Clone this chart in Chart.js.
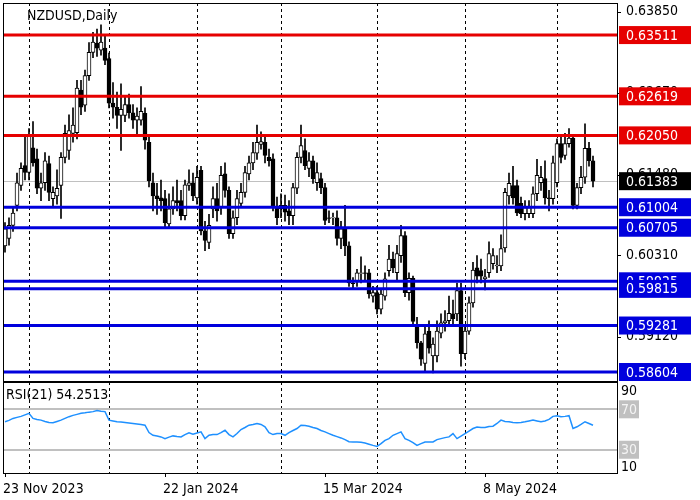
<!DOCTYPE html>
<html><head><meta charset="utf-8">
<script src="https://cdn.jsdelivr.net/npm/chart.js@4"></script>
<style>html,body{margin:0;padding:0;background:#fff;width:700px;height:500px;overflow:hidden}
#c1{position:absolute;left:0;top:0}#c2{position:absolute;left:0;top:380px}</style>
</head><body>
<canvas id="c1" width="700" height="383"></canvas>
<canvas id="c2" width="700" height="120"></canvas>
<script>
const symbolTitle = "NZDUSD,Daily";
const rsiTitle = "RSI(21) 54.2513";
const opens = [.6044,.6055,.6074,.6103,.6132,.6161,.6151,.6187,.6171,.6128,.6136,.6164,.6113,.6117,.6132,.6173,.6183,.6208,.6209,.6271,
.6249,.6292,.6326,.6339,.6329,.6332,.6317,.6252,.6246,.6234,.6234,.6250,.6238,.6227,.6227,.6237,.6195,.6136,.6117,.6114,
.6113,.6076,.6098,.6110,.6110,.6088,.6132,.6136,.6114,.6154,.6066,.6049,.6098,.6113,.6100,.6149,.6125,.6062,.6085,.6106,
.6122,.6149,.6165,.6179,.6192,.6195,.6173,.6171,.6100,.6103,.6103,.6095,.6088,.6128,.6173,.6183,.6157,.6168,.6136,.6142,
.6129,.6085,.6085,.6085,.6055,.6069,.6044,.5990,.5993,.6004,.6005,.6005,.5971,.5976,.5952,.5971,.6008,.6025,.6005,.6030,
.6059,.5976,.5997,.5930,.5903,.5873,.5920,.5884,.5884,.5917,.5932,.5935,.5945,.5945,.5979,.5887,.5920,.5961,.6012,.6008,
.5996,.6005,.6018,.6015,.6015,.6041,.6117,.6132,.6132,.6106,.6091,.6091,.6091,.6120,.6136,.6142,.6114,.6113,.6136,.6193,
.6176,.6193,.6201,.6103,.6129,.6144,.6186,.6168];
const highs = [.6078,.6085,.6100,.6150,.6165,.6205,.6215,.6225,.6185,.6150,.6180,.6175,.6130,.6155,.6180,.6220,.6235,.6245,.6285,.6285,
.6300,.6340,.6355,.6360,.6366,.6350,.6325,.6282,.6268,.6280,.6262,.6265,.6250,.6245,.6276,.6245,.6205,.6150,.6135,.6140,
.6125,.6120,.6130,.6140,.6125,.6140,.6155,.6150,.6160,.6160,.6080,.6090,.6130,.6135,.6160,.6165,.6130,.6095,.6125,.6135,
.6160,.6175,.6195,.6220,.6210,.6205,.6185,.6178,.6115,.6120,.6118,.6110,.6135,.6180,.6220,.6200,.6180,.6175,.6165,.6150,
.6135,.6095,.6092,.6095,.6080,.6103,.6050,.5998,.6010,.6028,.6015,.6010,.5985,.5985,.5980,.6005,.6045,.6035,.6045,.6074,
.6065,.6005,.6000,.5940,.5905,.5930,.5935,.5910,.5935,.5945,.5950,.5971,.5965,.5990,.5990,.5930,.5970,.6020,.6030,.6025,
.6010,.6050,.6040,.6030,.6060,.6128,.6150,.6160,.6140,.6115,.6110,.6110,.6130,.6170,.6160,.6168,.6125,.6175,.6200,.6205,
.6208,.6215,.6205,.6135,.6160,.6222,.6195,.6175];
const lows = [.6035,.6045,.6065,.6095,.6125,.6140,.6140,.6160,.6120,.6110,.6125,.6110,.6100,.6105,.6084,.6165,.6170,.6195,.6200,.6235,
.6240,.6285,.6318,.6320,.6322,.6308,.6245,.6230,.6215,.6183,.6225,.6230,.6215,.6205,.6220,.6185,.6130,.6095,.6090,.6095,
.6072,.6070,.6090,.6095,.6082,.6082,.6125,.6110,.6105,.6060,.6037,.6040,.6085,.6080,.6090,.6115,.6055,.6055,.6075,.6100,
.6115,.6140,.6155,.6170,.6185,.6165,.6160,.6095,.6075,.6085,.6080,.6075,.6075,.6120,.6165,.6155,.6145,.6135,.6125,.6120,
.6075,.6078,.6075,.6045,.6040,.6030,.5985,.5982,.5985,.5990,.5992,.5968,.5962,.5945,.5945,.5965,.6000,.6005,.5995,.6020,
.5970,.5965,.5928,.5895,.5870,.5862,.5888,.5859,.5875,.5910,.5920,.5928,.5930,.5935,.5869,.5880,.5915,.5955,.5990,.5990,
.5980,.5998,.6010,.6005,.6008,.6035,.6105,.6105,.6088,.6085,.6082,.6085,.6085,.6110,.6125,.6105,.6095,.6105,.6130,.6165,
.6170,.6188,.6098,.6098,.6120,.6135,.6160,.6130];
const closes = [.6069,.6074,.6092,.6136,.6157,.6151,.6205,.6165,.6128,.6136,.6168,.6122,.6122,.6128,.6173,.6208,.6212,.6220,.6274,.6246,
.6292,.6326,.6341,.6332,.6341,.6314,.6252,.6246,.6234,.6243,.6250,.6238,.6227,.6233,.6240,.6198,.6139,.6117,.6113,.6110,
.6078,.6098,.6110,.6107,.6088,.6133,.6136,.6117,.6144,.6066,.6052,.6074,.6113,.6095,.6147,.6125,.6062,.6085,.6113,.6122,
.6151,.6165,.6180,.6195,.6196,.6176,.6168,.6100,.6085,.6098,.6093,.6088,.6129,.6173,.6190,.6161,.6168,.6142,.6151,.6129,
.6081,.6084,.6085,.6055,.6069,.6044,.5990,.5989,.6005,.6005,.6004,.5974,.5976,.5952,.5974,.5996,.6025,.6012,.6033,.6059,
.5976,.5997,.5934,.5903,.5879,.5916,.5895,.5901,.5920,.5932,.5935,.5946,.5938,.5979,.5887,.5920,.5961,.6009,.6000,.6000,
.5999,.6033,.6030,.6016,.6040,.6122,.6135,.6114,.6092,.6091,.6100,.6100,.6120,.6147,.6144,.6114,.6113,.6165,.6193,.6173,
.6193,.6201,.6103,.6129,.6144,.6186,.6168,.61383];
const rsiValues = [57.7,59,61,62,63,64.5,66,61,60,59.3,58,57,56.7,58,59.3,61,62.7,64,65,66,
66.5,67.2,67.7,68.7,68,67.7,59.3,58.5,57.7,57.5,57,56.5,56,55.5,55,54.3,47,44.3,43.5,42.7,
41,42.5,43.7,43,42.7,45,46.7,45.3,46.5,47.7,41,44.3,45,45,47,49.3,45,42.7,46,50,
52,54.3,55,56,55,52.7,47,45,46,46,44.3,47,49,51,54.3,54,53.3,52,51,49,
47.7,46,44.3,43,41.7,40,38,37.7,37.7,37.5,36.7,35.5,34.3,33.3,36,39.3,41,44.3,46,47.7,
41,39.3,37,34.3,36,37.7,37.7,37.7,40,41,42,42.7,46,41,43.5,46,48.5,51,52.5,52,
52,53,53.3,56,59.3,58,57.7,57,56.7,57,57.7,58.5,59.3,58.5,57.7,58.5,60,63,63.7,62.7,
63,63.7,51,52.7,55,57.7,56,54.25];
const redLevels = [0.63511, 0.62619, 0.62050];
const blueLevels = [0.61004, 0.60705, 0.59925, 0.59815, 0.59281, 0.58604];
const lastPrice = 0.61383;
const priceTicks = [0.63850, 0.62670, 0.61480, 0.60310, 0.59120];
const rsiLevels = [70, 30];
const rsiAxisLabels = [90, 10];
const monthLineBars = [6, 26, 48, 69, 93, 115, 138];
const dateLabelBars = [0, 40, 80, 120];
const dateLabels = ["23 Nov 2023", "22 Jan 2024", "15 Mar 2024", "8 May 2024"];

const FONT = '14px "DejaVu Sans Condensed", "DejaVu Sans"';
const idx = closes.map((_, i) => i);
const wickData = idx.map(i => ({x: i, y: [lows[i], highs[i]]}));
const bodyData = idx.map(i => ({x: i, y: opens[i] === closes[i] ? [opens[i], opens[i] + 0.00004] : [opens[i], closes[i]]}));
const bodyColors = idx.map(i => closes[i] >= opens[i] ? '#ffffff' : '#000000');

function vlines(chart, bars) {
  const {ctx, chartArea: a, scales: {x}} = chart;
  ctx.save(); ctx.strokeStyle = '#000'; ctx.lineWidth = 1; ctx.setLineDash([3, 3]);
  bars.forEach(b => { const px = Math.round(x.getPixelForValue(b)) + 0.5;
    ctx.beginPath(); ctx.moveTo(px, a.top); ctx.lineTo(px, a.bottom); ctx.stroke(); });
  ctx.restore();
}
function frame(chart) {
  const {ctx, chartArea: a} = chart;
  ctx.save(); ctx.strokeStyle = '#000'; ctx.lineWidth = 1;
  ctx.strokeRect(a.left + 0.5, a.top + 0.5, a.right - a.left, a.bottom - a.top); ctx.restore();
}

const mainPlugin = {
  id: 'mainDeco',
  beforeDatasetsDraw(chart) {
    const {ctx, chartArea: a, scales: {y}} = chart;
    vlines(chart, monthLineBars);
    ctx.save();
    let py = Math.round(y.getPixelForValue(lastPrice)) + 0.5;
    ctx.strokeStyle = '#c0c0c0'; ctx.lineWidth = 1;
    ctx.beginPath(); ctx.moveTo(a.left, py); ctx.lineTo(a.right, py); ctx.stroke();
    ctx.restore();
  },
  afterDatasetsDraw(chart) {
    const {ctx, chartArea: a, scales: {y}} = chart;
    ctx.save(); ctx.lineWidth = 3;
    const drawLevel = (v, col) => { const py = y.getPixelForValue(v);
      ctx.strokeStyle = col; ctx.beginPath(); ctx.moveTo(a.left, py); ctx.lineTo(a.right, py); ctx.stroke(); };
    redLevels.forEach(v => drawLevel(v, '#e60000'));
    blueLevels.forEach(v => drawLevel(v, '#0000dd'));
    ctx.restore();
    frame(chart);
    ctx.save(); ctx.font = FONT; ctx.textBaseline = 'middle'; ctx.fillStyle = '#000';
    priceTicks.forEach(v => { const py = y.getPixelForValue(v);
      ctx.fillRect(a.right, Math.round(py), 4, 1);
      ctx.fillText(v.toFixed(5), a.right + 9, py); });
    const box = (v, bg) => { const py = y.getPixelForValue(v);
      ctx.fillStyle = bg; ctx.fillRect(a.right + 2, py - 9, 72, 18);
      ctx.fillStyle = '#fff'; ctx.fillText(v.toFixed(5), a.right + 9, py + 1); };
    redLevels.forEach(v => box(v, '#e60000'));
    blueLevels.forEach(v => box(v, '#0000dd'));
    box(lastPrice, '#000');
    ctx.fillStyle = '#000'; ctx.textBaseline = 'alphabetic';
    ctx.fillText(symbolTitle, a.left + 24, a.top + 17);
    ctx.restore();
  }
};

new Chart(document.getElementById('c1'), {
  type: 'bar',
  data: { datasets: [
    { data: wickData, backgroundColor: '#000', barThickness: 1, grouped: false, order: 2 },
    { data: bodyData, backgroundColor: bodyColors, borderColor: '#000', borderWidth: 1, borderSkipped: false, barThickness: 4, grouped: false, order: 1 }
  ]},
  options: {
    responsive: false, animation: false, devicePixelRatio: 1,
    layout: { padding: { left: 3, top: 3, right: 83, bottom: 2 } },
    plugins: { legend: { display: false }, tooltip: { enabled: false } },
    scales: {
      x: { type: 'linear', min: -0.5, max: 153, offset: false, bounds: 'ticks', display: false },
      y: { min: 0.58473, max: 0.63978, display: false }
    }
  },
  plugins: [mainPlugin]
});

const rsiPlugin = {
  id: 'rsiDeco',
  beforeDatasetsDraw(chart) {
    const {ctx, chartArea: a, scales: {y}} = chart;
    vlines(chart, monthLineBars);
    ctx.save(); ctx.strokeStyle = '#c0c0c0'; ctx.lineWidth = 2;
    rsiLevels.forEach(v => { const py = Math.round(y.getPixelForValue(v));
      ctx.beginPath(); ctx.moveTo(a.left, py); ctx.lineTo(a.right, py); ctx.stroke(); });
    ctx.restore();
  },
  afterDatasetsDraw(chart) {
    const {ctx, chartArea: a, scales: {x, y}} = chart;
    frame(chart);
    ctx.save(); ctx.font = FONT; ctx.textBaseline = 'middle';
    rsiLevels.forEach(v => { const py = y.getPixelForValue(v);
      ctx.fillStyle = '#c0c0c0'; ctx.fillRect(a.right + 2, py - 9, 20, 18);
      ctx.fillStyle = '#f4f4f4'; ctx.fillText(String(v), a.right + 4, py + 1); });
    ctx.fillStyle = '#000';
    rsiAxisLabels.forEach(v => { const py = y.getPixelForValue(v);
      ctx.fillText(String(v), a.right + 4, py + (v > 50 ? 2 : -3)); });
    ctx.textBaseline = 'alphabetic';
    ctx.fillText(rsiTitle, a.left + 3, a.top + 17);
    dateLabelBars.forEach((b, i) => { const px = Math.round(x.getPixelForValue(b));
      ctx.fillRect(px, a.bottom, 1, 4);
      ctx.fillText(dateLabels[i], px - 2, a.bottom + 20); });
    ctx.restore();
  }
};

new Chart(document.getElementById('c2'), {
  type: 'line',
  data: { datasets: [{ data: idx.map(i => ({x: i, y: rsiValues[i]})), borderColor: '#1e90ff', borderWidth: 1.5, pointRadius: 0, tension: 0 }] },
  options: {
    responsive: false, animation: false, devicePixelRatio: 1,
    layout: { padding: { left: 3, top: 2, right: 83, bottom: 27 } },
    plugins: { legend: { display: false }, tooltip: { enabled: false } },
    scales: {
      x: { type: 'linear', min: -0.5, max: 153, display: false },
      y: { min: 7, max: 97, display: false }
    }
  },
  plugins: [rsiPlugin]
});
</script>
</body></html>
